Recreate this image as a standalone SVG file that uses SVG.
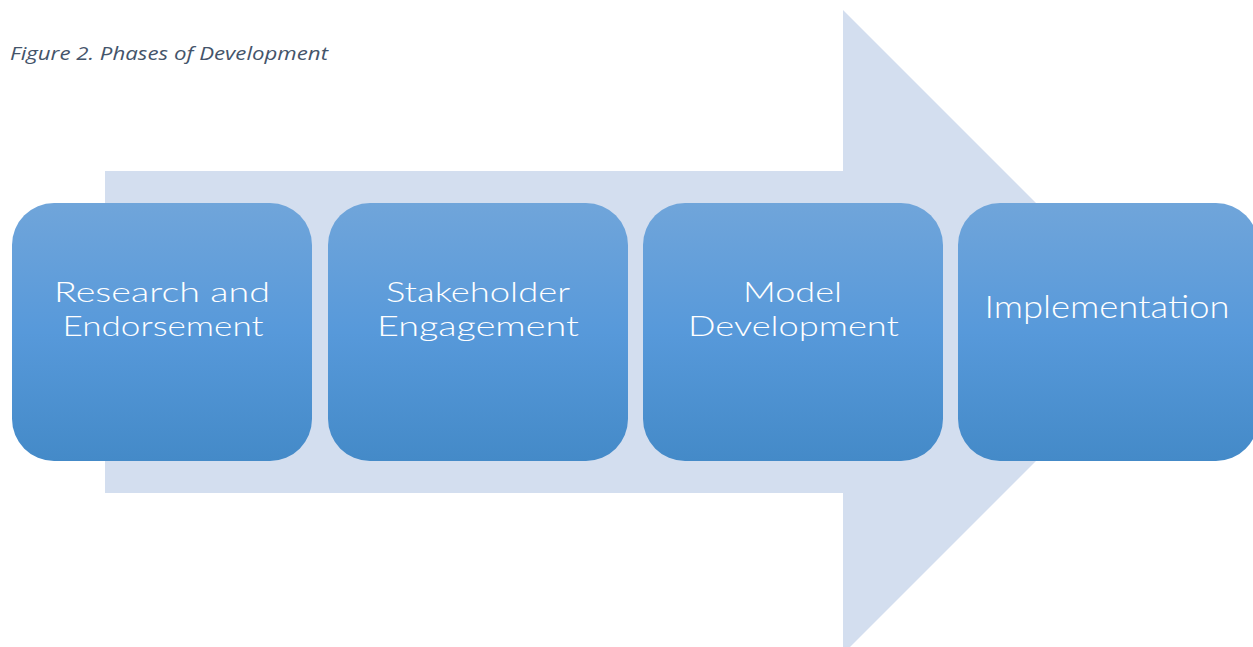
<svg xmlns="http://www.w3.org/2000/svg" width="1253" height="647" viewBox="0 0 1253 647">
<defs>
<linearGradient id="boxgrad" x1="0" y1="0" x2="0" y2="1">
<stop offset="0" stop-color="#70a5da"/>
<stop offset="0.5" stop-color="#5799da"/>
<stop offset="1" stop-color="#448ac8"/>
</linearGradient>
<style>
.box{fill:url(#boxgrad);}
.lbl{font-family:"Lato","DejaVu Sans",sans-serif;font-weight:300;font-size:28px;fill:#ffffff;text-anchor:middle;}
.big{font-size:32px;}
.cap{font-family:"Open Sans","Noto Sans",sans-serif;font-style:italic;font-size:18px;fill:#44546a;}
</style>
</defs>
<rect width="1253" height="647" fill="#ffffff"/>
<text class="cap" x="10" y="60" textLength="318" lengthAdjust="spacingAndGlyphs">Figure 2. Phases of Development</text>
<g id="arrow">
<polygon points="105,171 843,171 843,10 1165,332 843,654 843,493 105,493" fill="#d3deef"/>
</g>
<g id="connectors"></g>
<g id="node1">
<rect class="box" x="12" y="203" width="300" height="258" rx="42" ry="42"/>
<text class="lbl" x="162" y="302" textLength="216" lengthAdjust="spacingAndGlyphs">Research and</text>
<text class="lbl" x="163" y="336" textLength="201" lengthAdjust="spacingAndGlyphs">Endorsement</text>
</g>
<g id="node2">
<rect class="box" x="328" y="203" width="300" height="258" rx="42" ry="42"/>
<text class="lbl" x="478" y="302" textLength="184" lengthAdjust="spacingAndGlyphs">Stakeholder</text>
<text class="lbl" x="478" y="336" textLength="202" lengthAdjust="spacingAndGlyphs">Engagement</text>
</g>
<g id="node3">
<rect class="box" x="643" y="203" width="300" height="258" rx="42" ry="42"/>
<text class="lbl" x="792.5" y="302" textLength="99" lengthAdjust="spacingAndGlyphs">Model</text>
<text class="lbl" x="793.5" y="336" textLength="211" lengthAdjust="spacingAndGlyphs">Development</text>
</g>
<g id="node4">
<rect class="box" x="958" y="203" width="300" height="258" rx="42" ry="42"/>
<text class="lbl big" x="1107" y="318" textLength="245" lengthAdjust="spacingAndGlyphs">Implementation</text>
</g>
</svg>
